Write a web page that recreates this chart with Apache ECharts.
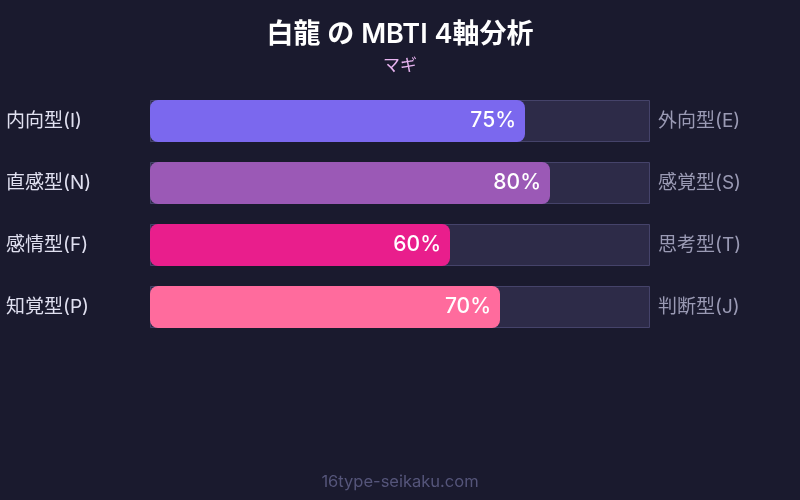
<!DOCTYPE html>
<html><head><meta charset="utf-8">
<script src="https://cdn.jsdelivr.net/npm/echarts@6/dist/echarts.min.js"></script>
<style>html,body{margin:0;padding:0;background:#1a1a2e;}#c{width:800px;height:500px;}</style>
</head><body><div id="c"></div>
<script>
const leftLabels = ['内向型(I)', '直感型(N)', '感情型(F)', '知覚型(P)'];
const rightLabels = ['外向型(E)', '感覚型(S)', '思考型(T)', '判断型(J)'];
const values = [75, 80, 60, 70];
const trackValues = [100, 100, 100, 100];
const colors = ['#7B68EE', '#9B59B6', '#E91E8C', '#FF6B9D'];

const FONT = "Inter, 'Noto Sans CJK JP', sans-serif";
const chart = echarts.init(document.getElementById('c'));
chart.setOption({
  backgroundColor: '#1a1a2e',
  animation: false,
  title: {
    text: '白龍 の MBTI 4軸分析',
    subtext: 'マギ',
    left: 'center',
    top: 16,
    itemGap: 9,
    textStyle: { color: '#ffffff', fontSize: 27, fontWeight: 600, fontFamily: FONT },
    subtextStyle: { color: '#e8b4f0', fontSize: 17, fontFamily: FONT }
  },
  graphic: [{
    type: 'text', left: 'center', top: 474,
    style: { text: '16type-seikaku.com', fill: '#55557a', fontSize: 16.5, fontFamily: FONT }
  }],
  grid: { left: 150, right: 150, top: 90, bottom: 162 },
  xAxis: { type: 'value', min: 0, max: 100, show: false },
  yAxis: [{
    type: 'category', data: leftLabels, inverse: true, position: 'left',
    axisLine: { show: false }, axisTick: { show: false },
    axisLabel: { align: 'left', margin: 144, color: '#e0e0f0', fontSize: 19, fontFamily: FONT }
  }, {
    type: 'category', data: rightLabels, inverse: true, position: 'right',
    axisLine: { show: false }, axisTick: { show: false },
    axisLabel: { align: 'left', margin: 8, color: '#9a9ab4', fontSize: 19, fontFamily: FONT }
  }],
  series: [{
    type: 'bar', data: trackValues, barWidth: 42, barGap: '-100%', silent: true,
    itemStyle: { color: '#2d2b48', borderColor: '#45436a', borderWidth: 1 },
    z: 1
  }, {
    type: 'bar', barWidth: 42,
    data: values.map((v, i) => ({ value: v, itemStyle: { color: colors[i] } })),
    itemStyle: { borderRadius: 8 },
    label: {
      show: true, position: 'insideRight', distance: 9,
      formatter: '{c}%', color: '#ffffff', fontSize: 21, fontWeight: 500, fontFamily: FONT
    },
    z: 2
  }]
});
</script></body></html>
